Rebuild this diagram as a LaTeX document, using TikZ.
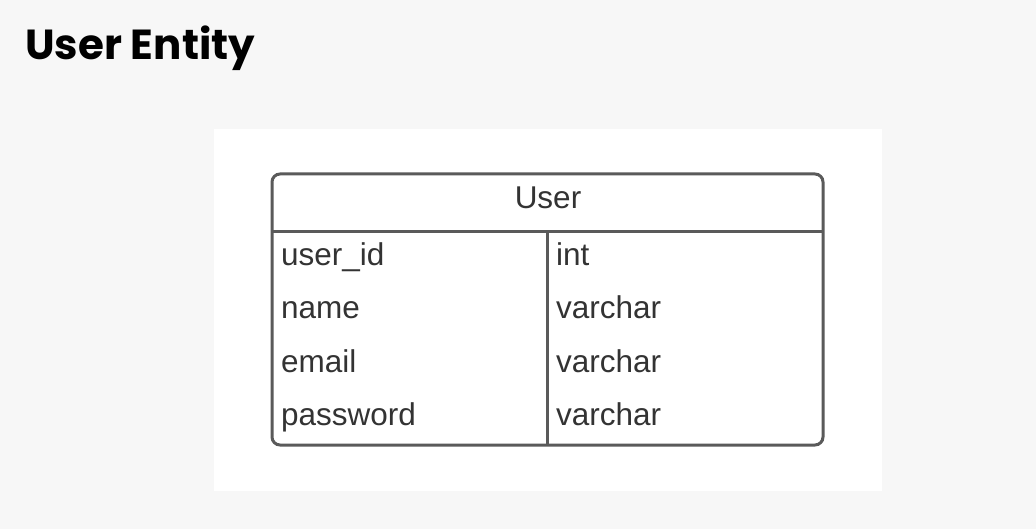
\documentclass[tikz,border=0pt]{standalone}
\usepackage{fontspec}
\setmainfont{Liberation Sans}
\newfontfamily\titlefont{Poppins}[UprightFont=* SemiBold, BoldFont=* Bold]
\definecolor{bg}{HTML}{F7F7F7}
\definecolor{edge}{HTML}{5A5A5A}
\definecolor{txt}{HTML}{333333}
\begin{document}
\begin{tikzpicture}[x=1pt,y=-1pt,
  cell/.style={anchor=base west,inner sep=0pt,text=txt,font=\fontsize{31.5}{31.5}\selectfont},
  frame/.style={draw=edge,line width=3pt}]
\fill[bg] (0,0) rectangle (1036,529);
\useasboundingbox (0,0) rectangle (1036,529);
\node[anchor=base west,inner sep=0pt,font=\titlefont\bfseries\fontsize{42}{42}\selectfont] (title) at (25,60) {User Entity};
\fill[white] (214,129) rectangle (882,491);
\draw[frame,rounded corners=8pt] (272,174) rectangle (823,445);
\coordinate (hl) at (272,232);
\coordinate (hr) at (823,232);
\coordinate (ct) at (547,232);
\coordinate (cb) at (547,445);
\draw[frame] (hl) -- (hr);
\draw[frame] (ct) -- (cb);
\node[anchor=base,inner sep=0pt,text=txt,font=\fontsize{31.5}{31.5}\selectfont] (hdr) at (548,209) {User};
\node[cell] (a1) at (281,266) {user\_id};
\node[cell] (b1) at (556,266) {int};
\node[cell] (a2) at (281,319) {name};
\node[cell] (b2) at (556,319) {varchar};
\node[cell] (a3) at (281,372) {email};
\node[cell] (b3) at (556,372) {varchar};
\node[cell] (a4) at (281,425) {password};
\node[cell] (b4) at (556,425) {varchar};
\end{tikzpicture}
\end{document}
